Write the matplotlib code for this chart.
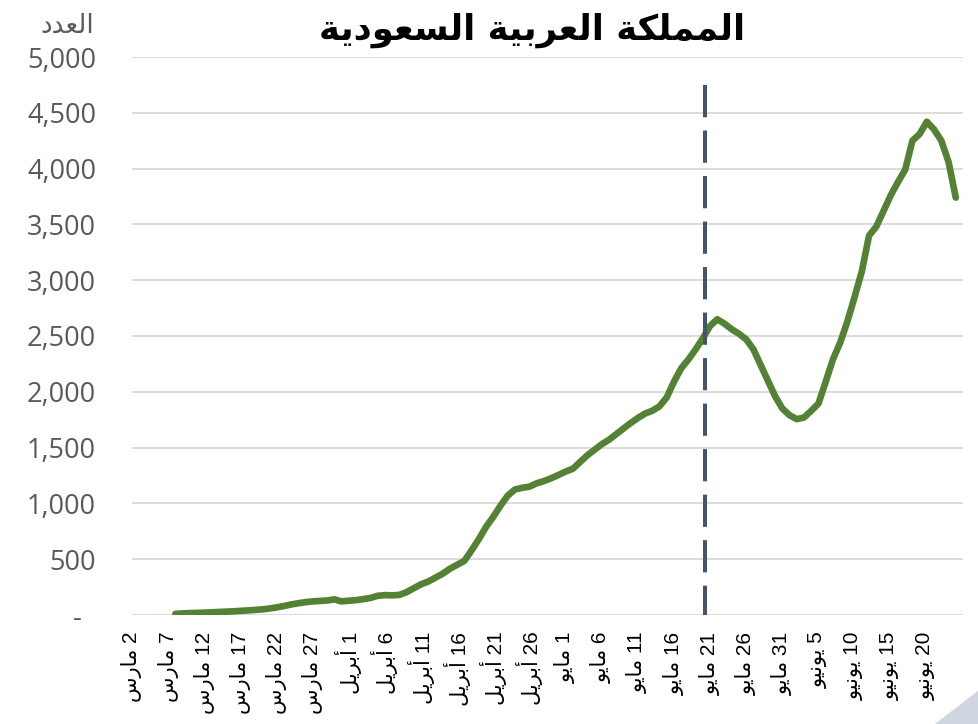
import matplotlib
matplotlib.use("Agg")
import matplotlib.pyplot as plt
from matplotlib.patches import Polygon
from matplotlib.ticker import FixedLocator, FuncFormatter

# ---------------- data ----------------
title_text = "المملكة العربية السعودية"
y_axis_title = "العدد"
first_day = 6          # first data point, days after 2 March
cases = [10, 14, 17, 19, 21, 24, 27, 30, 33, 37, 41, 45, 50, 58, 68, 80, 94, 105,
         115, 122, 126, 130, 140, 122, 128, 133, 142, 153, 172, 178, 176, 180,
         205, 240, 275, 300, 335, 370, 415, 450, 485, 580, 680, 790, 880, 980,
         1070, 1125, 1140, 1150, 1180, 1200, 1225, 1254, 1285, 1310, 1370, 1430,
         1480, 1530, 1570, 1620, 1670, 1720, 1765, 1805, 1830, 1870, 1950, 2090,
         2210, 2290, 2380, 2480, 2590, 2650, 2610, 2560, 2520, 2470, 2380, 2240,
         2100, 1960, 1850, 1790, 1755, 1770, 1830, 1895, 2090, 2290, 2440, 2630,
         2850, 3080, 3400, 3480, 3620, 3760, 3880, 3990, 4250, 4310, 4420, 4350,
         4250, 4060, 3740]
tick_days = [0, 5, 10, 15, 20, 25, 30, 35, 40, 45, 50, 55, 60, 65, 70, 75, 80,
             85, 90, 95, 100, 105, 110]
tick_labels = ["2 مارس", "7 مارس", "12 مارس", "17 مارس", "22 مارس", "27 مارس",
               "1 أبريل", "6 أبريل", "11 أبريل", "16 أبريل", "21 أبريل", "26 أبريل",
               "1 مايو", "6 مايو", "11 مايو", "16 مايو", "21 مايو", "26 مايو",
               "31 مايو", "5 يونيو", "10 يونيو", "15 يونيو", "20 يونيو"]
y_ticks = [0, 500, 1000, 1500, 2000, 2500, 3000, 3500, 4000, 4500, 5000]
event_day = 79.3       # dashed marker (around 21 May)
event_top = 4750
x_end = 115

# ---------------- simple Arabic shaping ----------------
FORMS = {  # iso, fin, ini, med
    "ا": ("\uFE8D", "\uFE8E", None, None),
    "أ": ("\uFE83", "\uFE84", None, None),
    "ب": ("\uFE8F", "\uFE90", "\uFE91", "\uFE92"),
    "ة": ("\uFE93", "\uFE94", None, None),
    "ت": ("\uFE95", "\uFE96", "\uFE97", "\uFE98"),
    "د": ("\uFEA9", "\uFEAA", None, None),
    "ر": ("\uFEAD", "\uFEAE", None, None),
    "س": ("\uFEB1", "\uFEB2", "\uFEB3", "\uFEB4"),
    "ع": ("\uFEC9", "\uFECA", "\uFECB", "\uFECC"),
    "ك": ("\uFED9", "\uFEDA", "\uFEDB", "\uFEDC"),
    "ل": ("\uFEDD", "\uFEDE", "\uFEDF", "\uFEE0"),
    "م": ("\uFEE1", "\uFEE2", "\uFEE3", "\uFEE4"),
    "ن": ("\uFEE5", "\uFEE6", "\uFEE7", "\uFEE8"),
    "و": ("\uFEED", "\uFEEE", None, None),
    "ي": ("\uFEF1", "\uFEF2", "\uFEF3", "\uFEF4"),
}


def shape_word(w):
    out = []
    n = len(w)
    for i, ch in enumerate(w):
        if ch not in FORMS:
            out.append(ch)
            continue
        iso, fin, ini, med = FORMS[ch]
        prev_j = i > 0 and w[i - 1] in FORMS and FORMS[w[i - 1]][2] is not None
        next_j = i < n - 1 and w[i + 1] in FORMS and ini is not None
        if prev_j and next_j:
            out.append(med)
        elif prev_j:
            out.append(fin)
        elif next_j:
            out.append(ini)
        else:
            out.append(iso)
    return "".join(out)


def visual(text):
    # RTL paragraph: reverse word order, reverse letters of Arabic words,
    # keep digit runs left-to-right
    words = text.split(" ")
    vis = []
    for w in reversed(words):
        if any(c in FORMS for c in w):
            vis.append(shape_word(w)[::-1])
        else:
            vis.append(w)
    return " ".join(vis)


# ---------------- figure ----------------
fig = plt.figure(figsize=(9.79, 7.24), dpi=100)
fig.patch.set_facecolor("white")

# decorative corner shape
corner = Polygon([[0.955, 0.0], [1.0, 0.0], [1.0, 0.047]], closed=True,
                 transform=fig.transFigure, facecolor="#CFD6E0",
                 edgecolor="none", zorder=0)
fig.patches.append(corner)

ax = fig.add_axes([132 / 979, 1 - 615 / 724, (963 - 132) / 979, (615 - 57) / 724])
ax.set_facecolor("none")

days = list(range(first_day, first_day + len(cases)))
ax.plot(days, cases, color="#548235", lw=4.8, solid_capstyle="round",
        solid_joinstyle="round", zorder=3)

ax.plot([event_day, event_day], [event_top, 0], color="#44546A", lw=2.9,
        dashes=(8, 3.3), zorder=4)

ax.set_xlim(0, x_end)
ax.set_ylim(0, y_ticks[-1])

ax.yaxis.set_major_locator(FixedLocator(y_ticks))
ax.yaxis.set_major_formatter(FuncFormatter(
    lambda v, p: "-  " if v == 0 else f"{int(v):,}"))
ax.grid(axis="y", color="#D9D9D9", lw=1.3, zorder=1)
ax.set_axisbelow(True)

ax.set_xticks(tick_days)
ax.set_xticklabels([visual(t) for t in tick_labels], rotation=90,
                   fontsize=15, family=["Liberation Sans", "DejaVu Sans"],
                   color="black", va="top", ha="center")

for lab in ax.get_yticklabels():
    lab.set_family(["Open Sans", "DejaVu Sans"])
    lab.set_fontsize(19.5)
    lab.set_color("#595959")

ax.tick_params(axis="y", length=0, pad=26)
ax.tick_params(axis="x", length=0, pad=12)
for s in ax.spines.values():
    s.set_visible(False)

fig.text(0.543, 0.958, visual(title_text), ha="center", va="center",
         fontsize=25.5, fontweight="bold", family=["DejaVu Sans"], color="black")
fig.text(67 / 979, 1 - 26 / 724, visual(y_axis_title), ha="center", va="center",
         fontsize=19, family=["DejaVu Sans"], color="#595959")

fig.savefig("out.png", dpi=100, facecolor="white")
